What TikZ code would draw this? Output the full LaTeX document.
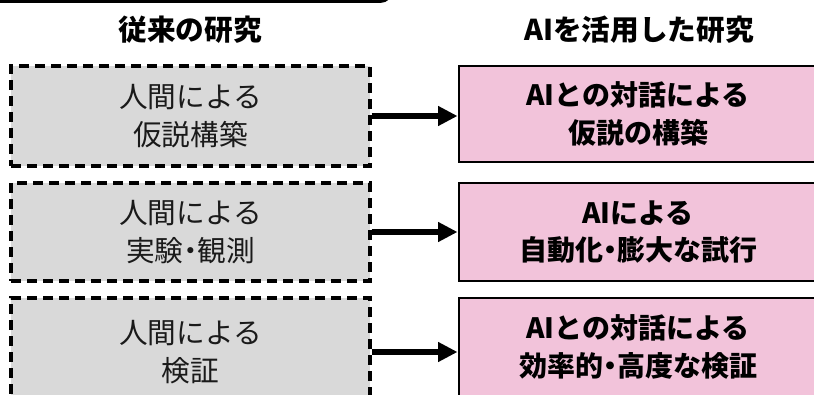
\documentclass[tikz,border=0pt]{standalone}
\usepackage{fontspec}
\newfontfamily\jp{Noto Sans CJK JP}
\usetikzlibrary{arrows.meta}
\definecolor{lgray}{HTML}{D9D9D9}
\definecolor{pinkf}{HTML}{F2C3DA}
\definecolor{txtg}{HTML}{1A1A1A}
\newcommand\nakaguro{{\addfontfeature{RawFeature=+palt}・}}
\begin{document}
\begin{tikzpicture}[x=0.75pt,y=-0.75pt,
  oldbox/.style={draw=black, fill=lgray, line width=2.6pt, dash pattern=on 7.5pt off 4.5pt,
    minimum width=269.25pt, inner sep=0pt, align=center, text=txtg,
    font=\jp\fontsize{21.5pt}{28pt}\selectfont},
  aibox/.style={draw=black, fill=pinkf, line width=2.2pt,
    minimum width=268.5pt, inner sep=0pt, align=center, text=black,
    font=\jp\bfseries\fontsize{21pt}{28pt}\selectfont},
  head/.style={font=\jp\bfseries\fontsize{21.5pt}{24pt}\selectfont, text=black},
  conn/.style={line width=4.6pt, -{Triangle[length=14.5pt,width=14pt]}}]
\useasboundingbox (0,0) rectangle (814,395);
\clip (0,0) rectangle (814,395);
\fill[white] (0,0) rectangle (814,395);
% top frame remnant
\draw[line width=2.6pt, rounded corners=8pt] (-20,1.2) -- (391,1.2) -- (391,-40);
% headers
\node[head] (h1) at (190,30) {従来の研究};
\node[head] (h2) at (639,30) {AIを活用した研究};
% conventional
\node[oldbox, minimum height=75pt] (l1) at (190.5,116) {人間による\\仮説構築};
\node[oldbox, minimum height=73.5pt] (l2) at (190.5,232) {人間による\\実験\nakaguro 観測};
\node[oldbox, minimum height=81pt] (l3) at (190.5,352) {人間による\\検証};
% AI
\node[aibox, minimum height=72pt] (r1) at (638,114) {AIとの対話による\\仮説の構築};
\node[aibox, minimum height=73.5pt] (r2) at (638,232) {AIによる\\自動化\nakaguro 膨大な試行};
\node[aibox, minimum height=73.5pt] (r3) at (638,347) {AIとの対話による\\効率的\nakaguro 高度な検証};
% arrows
\draw[conn] (l1.east) -- (r1.west |- l1.east);
\draw[conn] (l2.east) -- (r2.west |- l2.east);
\draw[conn] (l3.east) -- (r3.west |- l3.east);
\end{tikzpicture}
\end{document}
